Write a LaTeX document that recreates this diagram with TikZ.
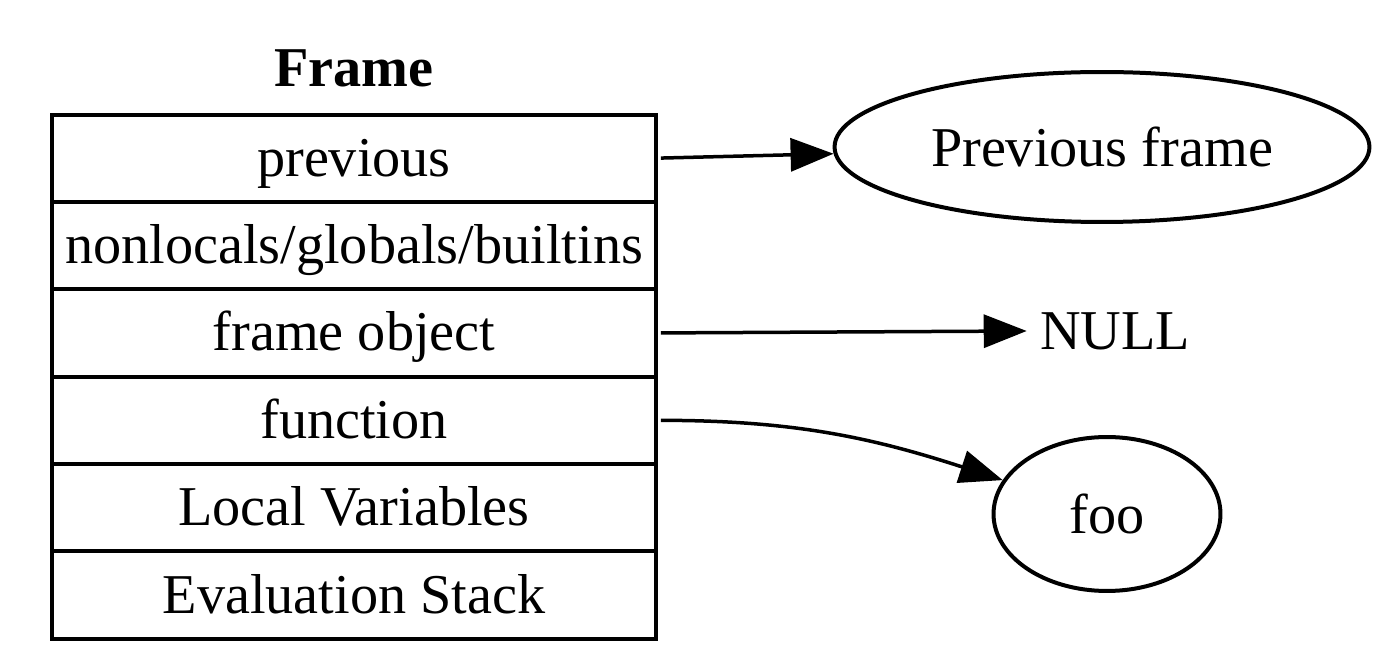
\documentclass[tikz,border=0pt]{standalone}
\usepackage{fontspec}
\setmainfont{Liberation Serif}
\usetikzlibrary{positioning, arrows.meta, shapes.geometric}

\begin{document}
\begin{tikzpicture}[
    x=0.02cm, y=-0.02cm,
    node distance=0cm,
    font=\fontsize{32}{38}\selectfont,
    field/.style={draw, rectangle, line width=0.08cm, outer sep=0pt,
                  text height=27pt, text depth=6.5pt,
                  minimum width=12.08cm, minimum height=1.748cm, align=center},
    blob/.style={draw, ellipse, line width=0.08cm, inner sep=0pt},
    arrow/.style={-{Triangle[length=0.86cm, width=0.66cm]}, line width=0.07cm,
                  shorten <=0.1cm},
    title/.style={font=\fontsize{32}{38}\selectfont\bfseries}
]
\useasboundingbox (0,0) rectangle (1396,671);
% Left — frame layout
\node[title] (frame_t) at (354,68) {Frame};
\node[field] (f_prev) at (354,158.2) {previous};
\node[field, below=of f_prev] (f_names) {nonlocals/globals/builtins};
\node[field, below=of f_names] (f_obj) {frame object};
\node[field, below=of f_obj] (f_func) {function};
\node[field, below=of f_func] (f_locals) {Local Variables};
\node[field, below=of f_locals] (f_stack) {Evaluation Stack};
% Right — targets
\node[blob, minimum width=10.7cm, minimum height=3cm] (prev_frame)
      at (1102,147) {Previous frame};
\node[inner sep=0.26cm] (null_t) at (1115,331) {NULL};
\node[blob, minimum width=4.54cm, minimum height=3.08cm] (foo_f)
      at (1107,514) {foo};
\draw[arrow] (f_prev.east) -- (prev_frame);
\draw[arrow] (f_obj.east) -- (null_t.west);
\draw[arrow] (f_func.east) to[out=0, in=162] (foo_f);
\end{tikzpicture}
\end{document}
